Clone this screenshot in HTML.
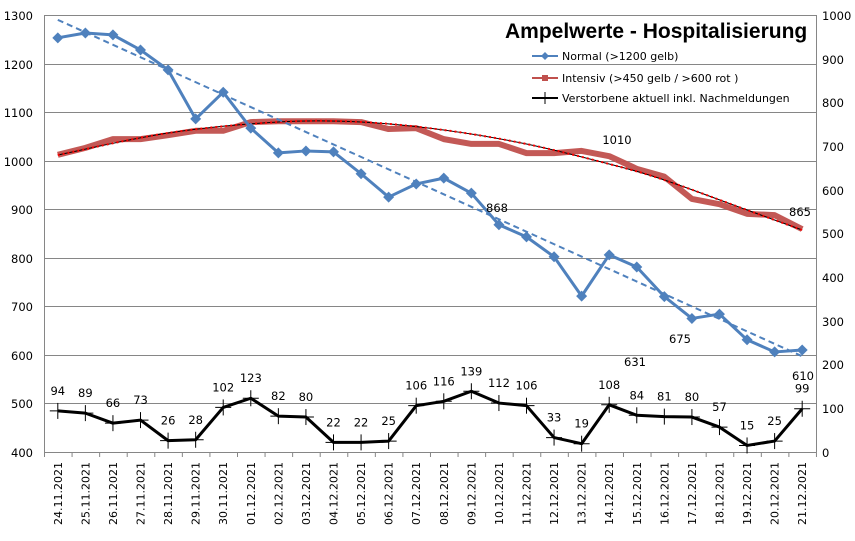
<!DOCTYPE html>
<html><head><meta charset="utf-8"><style>
body{margin:0;background:#fff}
svg{display:block}
text{font-family:"DejaVu Sans","Liberation Sans",sans-serif;font-size:11.5px;fill:#000}
</style></head><body>
<svg width="855" height="541" viewBox="0 0 855 541" xmlns="http://www.w3.org/2000/svg">
<g stroke="#868686" stroke-width="1">
<line x1="44" x2="816" y1="15.5" y2="15.5"/><line x1="44" x2="816" y1="64.5" y2="64.5"/>
<line x1="44" x2="816" y1="112.5" y2="112.5"/><line x1="44" x2="816" y1="161.5" y2="161.5"/>
<line x1="44" x2="816" y1="209.5" y2="209.5"/><line x1="44" x2="816" y1="258.5" y2="258.5"/>
<line x1="44" x2="816" y1="306.5" y2="306.5"/><line x1="44" x2="816" y1="355.5" y2="355.5"/>
<line x1="44" x2="816" y1="403.5" y2="403.5"/><line x1="44" x2="816" y1="452.5" y2="452.5"/>
<line x1="44.5" x2="44.5" y1="15" y2="452"/><line x1="816.5" x2="816.5" y1="15" y2="452"/>
</g>
<g id="ticks" stroke="#868686"></g>
<g text-anchor="end">
<text x="33" y="20">1300</text><text x="33" y="69">1200</text><text x="33" y="117">1100</text>
<text x="33" y="166">1000</text><text x="33" y="214">900</text><text x="33" y="263">800</text>
<text x="33" y="311">700</text><text x="33" y="360">600</text><text x="33" y="408">500</text>
<text x="33" y="457">400</text>
</g>
<g>
<text x="822" y="20">1000</text><text x="822" y="64">900</text><text x="822" y="107">800</text>
<text x="822" y="151">700</text><text x="822" y="195">600</text><text x="822" y="238">500</text>
<text x="822" y="282">400</text><text x="822" y="326">300</text><text x="822" y="369">200</text>
<text x="822" y="413">100</text><text x="822" y="457">0</text>
</g>
<g id="dates"></g>
<g id="series"></g>
<text x="505" y="38" style="font-size:21px;font-weight:bold;font-family:'Liberation Sans',sans-serif">Ampelwerte - Hospitalisierung</text>
<line x1="532" x2="558" y1="56" y2="56" stroke="#4f81bd" stroke-width="2"/>
<path d="M545 52l4 4-4 4-4-4z" fill="#4f81bd"/>
<text x="562" y="60" style="font-size:11px">Normal (&gt;1200 gelb)</text>
<line x1="532" x2="558" y1="78" y2="78" stroke="#c0504d" stroke-width="2"/>
<rect x="542" y="75" width="6" height="6" fill="#c0504d"/>
<text x="562" y="82" style="font-size:11px">Intensiv (&gt;450 gelb / &gt;600 rot )</text>
<line x1="532" x2="558" y1="98" y2="98" stroke="#000" stroke-width="2"/>
<line x1="545" x2="545" y1="92" y2="104" stroke="#000" stroke-width="1"/>
<text x="562" y="102" style="font-size:11px">Verstorbene aktuell inkl. Nachmeldungen</text>
</svg>
<script>
const ns="http://www.w3.org/2000/svg";
const X=i=>57.8+i*27.57;
const YL=v=>15+(1300-v)*0.4855;
const YR=v=>15+(1000-v)*0.437;
const dates=["24.11.2021","25.11.2021","26.11.2021","27.11.2021","28.11.2021","29.11.2021","30.11.2021","01.12.2021","02.12.2021","03.12.2021","04.12.2021","05.12.2021","06.12.2021","07.12.2021","08.12.2021","09.12.2021","10.12.2021","11.12.2021","12.12.2021","13.12.2021","14.12.2021","15.12.2021","16.12.2021","17.12.2021","18.12.2021","19.12.2021","20.12.2021","21.12.2021"];
const normal=[1253,1263,1259,1228,1187,1086,1141,1067,1016,1020,1018,973,925,952,964,933,868,843,802,721,806,781,720,675,684,631,606,610];
const inten=[680,696,716,716,725,735,735,755,757,757,757,755,739,741,716,705,705,684,684,689,677,648,630,579,567,545,542,510];
const dead=[94,89,66,73,26,28,102,123,82,80,22,22,25,106,116,139,112,106,33,19,108,84,81,80,57,15,25,99];
let h="";
let t="";
for(let i=0;i<=28;i++){const x=44.5+i*27.57;t+=`<line x1="${x}" x2="${x}" y1="452" y2="457"/>`;}
document.getElementById("ticks").innerHTML=t;
let d="";
dates.forEach((s,i)=>{d+=`<text transform="translate(${X(i)+4},462) rotate(-90)" text-anchor="end" style="font-size:11px">${s}</text>`});
document.getElementById("dates").innerHTML=d;
// intensiv thick
h+=`<polyline fill="none" stroke="#c0504d" stroke-opacity="0.95" stroke-width="6" stroke-linejoin="round" points="${inten.map((v,i)=>X(i)+","+YR(v)).join(" ")}"/>`;
// trend
const tr=[[0,155],[4,133],[8,122],[11,122],[14,130],[17,144],[20,164],[22,180],[25,210],[27,230]];
let tp="";
for(let k=0;k<tr.length-1;k++){}
// smooth via catmull-rom
let pts=tr.map(p=>[X(p[0]),p[1]]);
let pd=`M${pts[0][0]},${pts[0][1]}`;
for(let k=0;k<pts.length-1;k++){const p0=pts[Math.max(k-1,0)],p1=pts[k],p2=pts[k+1],p3=pts[Math.min(k+2,pts.length-1)];
pd+=`C${p1[0]+(p2[0]-p0[0])/6},${p1[1]+(p2[1]-p0[1])/6} ${p2[0]-(p3[0]-p1[0])/6},${p2[1]-(p3[1]-p1[1])/6} ${p2[0]},${p2[1]}`;}
h+=`<path d="${pd}" fill="none" stroke="#000" stroke-width="1"/><path d="${pd}" fill="none" stroke="#ff0000" stroke-width="2" stroke-dasharray="2 3"/>`;
// blue trend
h+=`<line x1="${X(0)}" y1="${YL(1290)}" x2="${X(27)}" y2="${YL(597)}" stroke="#4f81bd" stroke-width="2" stroke-dasharray="6 4"/>`;
h+=`<polyline fill="none" stroke="#4f81bd" stroke-width="3" stroke-linejoin="round" points="${normal.map((v,i)=>X(i)+","+YL(v)).join(" ")}"/>`;
normal.forEach((v,i)=>{const x=X(i),y=YL(v);h+=`<path d="M${x} ${y-5.5}l5.5 5.5-5.5 5.5-5.5-5.5z" fill="#4f81bd"/>`});
h+=`<polyline fill="none" stroke="#000" stroke-width="3" stroke-linejoin="round" points="${dead.map((v,i)=>X(i)+","+YR(v)).join(" ")}"/>`;
dead.forEach((v,i)=>{const x=X(i),y=YR(v);h+=`<line x1="${x}" x2="${x}" y1="${y-8}" y2="${y+8}" stroke="#000" stroke-width="1"/><line x1="${x-8}" x2="${x+8}" y1="${y}" y2="${y}" stroke="#000" stroke-width="1"/>`;
h+=`<text x="${x}" y="${y-16}" text-anchor="middle">${v}</text>`});
[[497,212,"868"],[680,343,"675"],[635,366,"631"],[803,380,"610"],[617,144,"1010"],[800,216,"865"]].forEach(a=>{h+=`<text x="${a[0]}" y="${a[1]}" text-anchor="middle">${a[2]}</text>`});
document.getElementById("series").innerHTML=h;
</script>
</body></html>
